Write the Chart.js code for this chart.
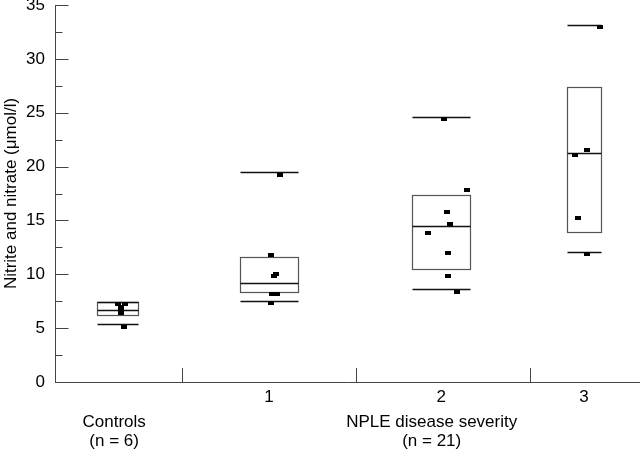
<!DOCTYPE html>
<html><head><meta charset="utf-8">
<script src="https://cdn.jsdelivr.net/npm/chart.js@4"></script>
<style>html,body{margin:0;padding:0;background:#fff}</style>
</head><body>
<canvas id="c" width="640" height="449"></canvas>
<script>
// ---- data ----
const groupLabels = ['', '1', '2', '3'];
const groupPos = [0.13, 1.0, 1.99, 2.81];
const boxWidth = [0.236, 0.33, 0.333, 0.2];
const q1 = [6.22, 8.36, 10.5, 13.9];
const median = [6.69, 9.22, 14.5, 21.3];
const q3 = [7.4, 11.64, 17.4, 27.4];
const whiskerLow = [5.36, 7.5, 8.6, 12.07];
const whiskerHigh = [7.4, 19.47, 24.63, 33.15];

const controlsX = [0.132, 0.172, 0.147, 0.147, 0.147, 0.167];
const controlsY = [7.2, 7.2, 6.95, 6.65, 6.4, 5.1];
const sev1X = [1.063, 1.011, 1.043, 1.027, 1.017, 1.046, 1.011];
const sev1Y = [19.25, 11.8, 10.06, 9.8, 8.2, 8.2, 7.33];
const sev2X = [2.007, 2.136, 2.025, 2.040, 1.912, 2.027, 2.027, 2.079];
const sev2Y = [24.4, 17.8, 15.8, 14.7, 13.8, 12.0, 9.8, 8.4];
const sev3X = [2.904, 2.826, 2.759, 2.776, 2.826];
const sev3Y = [33.0, 21.5, 21.1, 15.2, 11.85];

const yMajorTicks = [0, 5, 10, 15, 20, 25, 30, 35];
const yMinorTicks = [2.5, 7.5, 12.5, 17.5, 22.5, 27.5, 32.5];
const xBoundaryTicks = [0.5, 1.5, 2.5];
const groupTitles = [
  {pos: 0.11, lines: ['Controls', '(n = 6)']},
  {pos: 1.935, lines: ['NPLE disease severity', '(n = 21)']}
];
const yTitle = 'Nitrite and nitrate (\u03bcmol/l)';
const xMin = -0.2299, xMax = 3.1264;

// ---- marker ----
const marker = document.createElement('canvas');
marker.width = 6; marker.height = 4;
const mctx = marker.getContext('2d');
mctx.fillStyle = '#000'; mctx.fillRect(0, 0, 6, 4);

function pts(xs, ys) { return xs.map((x, i) => ({x: x, y: ys[i]})); }
const FAMILY = '"Liberation Sans", Arial, sans-serif';
const FONT = '17px ' + FAMILY;

const boxPlugin = {
  id: 'boxes',
  beforeDatasetsDraw(chart) {
    const {ctx, scales: {x, y}} = chart;
    ctx.save();
    for (let i = 0; i < groupPos.length; i++) {
      const l = Math.round(x.getPixelForValue(groupPos[i] - boxWidth[i] / 2)) + 0.5;
      const r = Math.round(x.getPixelForValue(groupPos[i] + boxWidth[i] / 2)) + 0.5;
      const t = Math.round(y.getPixelForValue(q3[i])) + 0.5;
      const b = Math.round(y.getPixelForValue(q1[i])) + 0.5;
      ctx.strokeStyle = '#555'; ctx.lineWidth = 1.2;
      ctx.strokeRect(l, t, r - l, b - t);
      ctx.strokeStyle = '#111'; ctx.lineWidth = 1.5;
      [median[i], whiskerLow[i], whiskerHigh[i]].forEach(v => {
        const py = Math.round(y.getPixelForValue(v)) + 0.5;
        ctx.beginPath(); ctx.moveTo(l, py); ctx.lineTo(r, py); ctx.stroke();
      });
    }
    ctx.restore();
  },
  afterDraw(chart) {
    const {ctx, scales: {x, y}, chartArea} = chart;
    ctx.save();
    ctx.strokeStyle = '#444'; ctx.lineWidth = 1;
    const ax = chartArea.left + 0.5;
    yMajorTicks.forEach(v => {
      const py = Math.round(y.getPixelForValue(v)) + 0.5;
      ctx.beginPath(); ctx.moveTo(ax, py); ctx.lineTo(ax + 13, py); ctx.stroke();
    });
    yMinorTicks.forEach(v => {
      const py = Math.round(y.getPixelForValue(v)) + 0.5;
      ctx.beginPath(); ctx.moveTo(ax, py); ctx.lineTo(ax + 7, py); ctx.stroke();
    });
    const by = chartArea.bottom;
    xBoundaryTicks.forEach(v => {
      const px = Math.round(x.getPixelForValue(v)) + 0.5;
      ctx.beginPath(); ctx.moveTo(px, by); ctx.lineTo(px, by - 14); ctx.stroke();
    });
    ctx.fillStyle = '#000'; ctx.font = FONT;
    ctx.textAlign = 'center'; ctx.textBaseline = 'alphabetic';
    groupLabels.forEach((lab, i) => {
      if (lab) ctx.fillText(lab, x.getPixelForValue(groupPos[i]), by + 20);
    });
    groupTitles.forEach(g => {
      const px = x.getPixelForValue(g.pos);
      ctx.fillText(g.lines[0], px, by + 45);
      ctx.fillText(g.lines[1], px, by + 64);
    });
    ctx.restore();
  }
};

const ds = (xs, ys) => ({data: pts(xs, ys), pointStyle: marker, pointRadius: 3, showLine: false});

new Chart(document.getElementById('c'), {
  type: 'scatter',
  data: {datasets: [ds(controlsX, controlsY), ds(sev1X, sev1Y), ds(sev2X, sev2Y), ds(sev3X, sev3Y)]},
  options: {
    responsive: false, animation: false, devicePixelRatio: 1,
    layout: {autoPadding: false, padding: {top: 5, right: 1, left: 0, bottom: 0}},
    plugins: {legend: {display: false}, tooltip: {enabled: false}},
    scales: {
      x: {
        type: 'linear', min: xMin, max: xMax,
        ticks: {display: false},
        grid: {drawOnChartArea: false, drawTicks: false},
        border: {display: true, color: '#444', width: 1},
        afterFit: s => { s.height = 67; s.paddingLeft = 0; s.paddingRight = 0; }
      },
      y: {
        min: 0, max: 35,
        afterBuildTicks: s => { s.ticks = yMajorTicks.map(v => ({value: v})); },
        ticks: {color: '#000', padding: 10, font: {size: 17, family: FAMILY}},
        grid: {drawOnChartArea: false, drawTicks: false},
        border: {display: true, color: '#444', width: 1},
        title: {display: true, text: yTitle, color: '#000', padding: {top: 1, bottom: 0},
          font: {size: 17, family: FAMILY}},
        afterFit: s => { s.width = 55; s.paddingTop = 0; s.paddingBottom = 0; }
      }
    }
  },
  plugins: [boxPlugin]
});
</script>
</body></html>
